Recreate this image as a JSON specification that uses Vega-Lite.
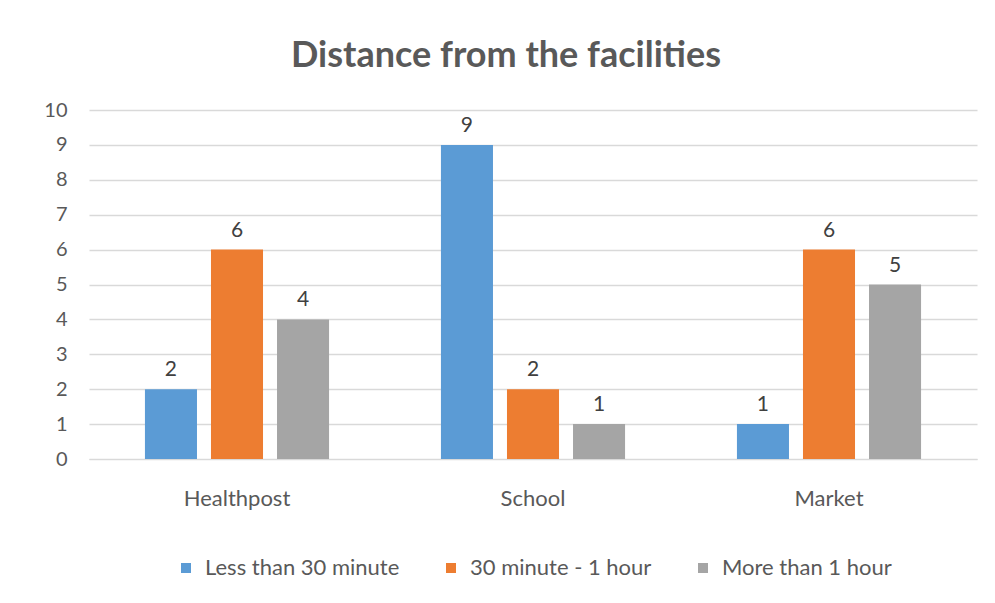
{
  "$schema": "https://vega.github.io/schema/vega-lite/v6.json",
  "width": 888,
  "height": 349,
  "autosize": {"type": "none"},
  "padding": {"left": 89, "top": 110, "right": 18, "bottom": 144},
  "background": "white",
  "title": {
    "text": "Distance from the facilities",
    "font": "Lato",
    "fontSize": 36,
    "fontWeight": "bold",
    "color": "#595959",
    "anchor": "middle",
    "offset": 25,
    "dx": -27
  },
  "data": {
    "values": [
      {"facility": "Healthpost", "distance": "Less than 30 minute", "count": 2},
      {"facility": "Healthpost", "distance": "30 minute - 1 hour", "count": 6},
      {"facility": "Healthpost", "distance": "More than 1 hour", "count": 4},
      {"facility": "School", "distance": "Less than 30 minute", "count": 9},
      {"facility": "School", "distance": "30 minute - 1 hour", "count": 2},
      {"facility": "School", "distance": "More than 1 hour", "count": 1},
      {"facility": "Market", "distance": "Less than 30 minute", "count": 1},
      {"facility": "Market", "distance": "30 minute - 1 hour", "count": 6},
      {"facility": "Market", "distance": "More than 1 hour", "count": 5}
    ]
  },
  "encoding": {
    "x": {
      "field": "facility",
      "type": "nominal",
      "sort": ["Healthpost", "School", "Market"],
      "scale": {"paddingInner": 0.378, "paddingOuter": 0.189},
      "axis": {
        "title": null,
        "labelAngle": 0,
        "labelFont": "Lato",
        "labelFontSize": 22,
        "labelColor": "#595959",
        "labelPadding": 29,
        "ticks": false,
        "domain": true,
        "domainColor": "#D9D9D9"
      }
    },
    "xOffset": {
      "field": "distance",
      "type": "nominal",
      "sort": ["Less than 30 minute", "30 minute - 1 hour", "More than 1 hour"],
      "scale": {"paddingInner": 0.212, "paddingOuter": 0}
    },
    "y": {
      "field": "count",
      "type": "quantitative",
      "scale": {"domain": [0, 10], "nice": false},
      "axis": {
        "title": null,
        "values": [0, 1, 2, 3, 4, 5, 6, 7, 8, 9, 10],
        "labelOverlap": false,
        "labelFont": "Lato",
        "labelFontSize": 20,
        "labelColor": "#595959",
        "labelPadding": 22,
        "ticks": false,
        "domain": false,
        "grid": true,
        "gridColor": "#D9D9D9",
        "gridWidth": 1.5
      }
    }
  },
  "layer": [
    {
      "mark": {"type": "bar"},
      "encoding": {
        "color": {
          "field": "distance",
          "type": "nominal",
          "sort": ["Less than 30 minute", "30 minute - 1 hour", "More than 1 hour"],
          "scale": {
            "domain": ["Less than 30 minute", "30 minute - 1 hour", "More than 1 hour"],
            "range": ["#5B9BD5", "#ED7D31", "#A5A5A5"]
          },
          "legend": {
            "title": null,
            "orient": "bottom",
            "direction": "horizontal",
            "symbolType": "square",
            "symbolSize": 100,
            "symbolStrokeWidth": 0,
            "labelFont": "Lato",
            "labelFontSize": 22,
            "labelLimit": 400,
            "labelColor": "#595959",
            "labelOffset": 8,
            "columnPadding": 40,
            "offset": 48
          }
        }
      }
    },
    {
      "mark": {"type": "text", "baseline": "bottom", "dy": -9, "font": "Lato", "fontSize": 21, "color": "#404040"},
      "encoding": {
        "text": {"field": "count", "type": "quantitative"}
      }
    }
  ],
  "config": {
    "view": {"stroke": null},
    "legend": {"layout": {"bottom": {"anchor": "middle"}}}
  }
}
